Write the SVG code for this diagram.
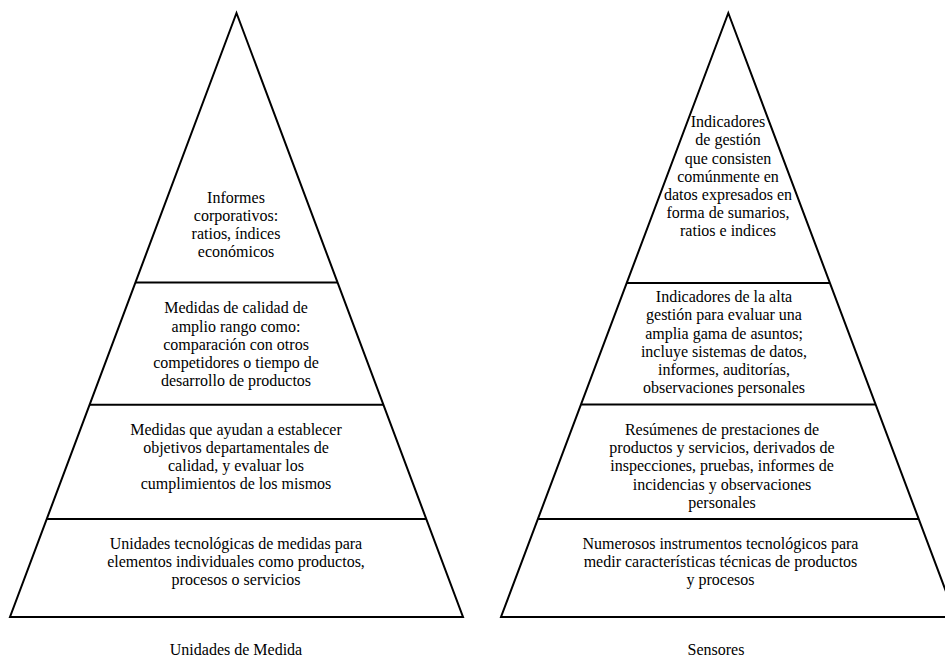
<svg xmlns="http://www.w3.org/2000/svg" width="945" height="660" viewBox="0 0 945 660">
  <style>
    .outline { fill: none; stroke: #000; stroke-width: 2; stroke-linejoin: miter; }
    .tier { stroke: #000; stroke-width: 2; }
    text { font-family: "Liberation Serif", "Times New Roman", serif; font-size: 16px; fill: #000; text-anchor: middle; }
  </style>
  <rect width="945" height="660" fill="#fff"/>

  <!-- Left pyramid: Unidades de Medida -->
  <g id="pyramid-unidades">
    <polygon class="outline" points="236.5,13 463,617 10,617"/>
    <g id="connectors-left">
      <line class="tier" x1="135.2" y1="282.5" x2="337.8" y2="282.5"/>
      <line class="tier" x1="89.3" y1="404.7" x2="383.7" y2="404.7"/>
      <line class="tier" x1="46.3" y1="519" x2="426.7" y2="519"/>
    </g>
    <g id="left-tier-1">
      <text x="236" y="203">Informes</text>
      <text x="236" y="221">corporativos:</text>
      <text x="236" y="239">ratios, índices</text>
      <text x="236" y="257">económicos</text>
    </g>
    <g id="left-tier-2">
      <text x="236" y="313">Medidas de calidad de</text>
      <text x="236" y="331.5">amplio rango como:</text>
      <text x="236" y="350">comparación con otros</text>
      <text x="236" y="368">competidores o tiempo de</text>
      <text x="236" y="386">desarrollo de productos</text>
    </g>
    <g id="left-tier-3">
      <text x="236" y="435">Medidas que ayudan a establecer</text>
      <text x="236" y="453">objetivos departamentales de</text>
      <text x="236" y="471">calidad, y evaluar los</text>
      <text x="236" y="489">cumplimientos de los mismos</text>
    </g>
    <g id="left-tier-4">
      <text x="236" y="549">Unidades tecnológicas de medidas para</text>
      <text x="236" y="567">elementos individuales como productos,</text>
      <text x="236" y="585">procesos o servicios</text>
    </g>
    <text id="caption-left" x="236" y="655">Unidades de Medida</text>
  </g>

  <!-- Right pyramid: Sensores -->
  <g id="pyramid-sensores">
    <polygon class="outline" points="728.3,13 955.6,617 501,617"/>
    <g id="connectors-right">
      <line class="tier" x1="626.8" y1="283" x2="829.8" y2="283"/>
      <line class="tier" x1="581.2" y1="404.5" x2="875.4" y2="404.5"/>
      <line class="tier" x1="538.1" y1="519" x2="918.5" y2="519"/>
    </g>
    <g id="right-tier-1">
      <text x="728" y="127">Indicadores</text>
      <text x="728" y="145">de gestión</text>
      <text x="728" y="163.5">que consisten</text>
      <text x="728" y="181.5">comúnmente en</text>
      <text x="728" y="199.5">datos expresados en</text>
      <text x="728" y="217.5">forma de sumarios,</text>
      <text x="728" y="236">ratios e indices</text>
    </g>
    <g id="right-tier-2">
      <text x="724" y="302">Indicadores de la alta</text>
      <text x="724" y="320">gestión para evaluar una</text>
      <text x="724" y="338.5">amplia gama de asuntos;</text>
      <text x="724" y="357">incluye sistemas de datos,</text>
      <text x="724" y="375">informes, auditorías,</text>
      <text x="724" y="393">observaciones personales</text>
    </g>
    <g id="right-tier-3">
      <text x="722" y="435">Resúmenes de prestaciones de</text>
      <text x="722" y="453">productos y servicios, derivados de</text>
      <text x="722" y="471">inspecciones, pruebas, informes de</text>
      <text x="722" y="490">incidencias y observaciones</text>
      <text x="722" y="508">personales</text>
    </g>
    <g id="right-tier-4">
      <text x="720.5" y="549">Numerosos instrumentos tecnológicos para</text>
      <text x="720.5" y="567">medir características técnicas de productos</text>
      <text x="720.5" y="585">y procesos</text>
    </g>
    <text id="caption-right" x="716" y="655">Sensores</text>
  </g>
</svg>
